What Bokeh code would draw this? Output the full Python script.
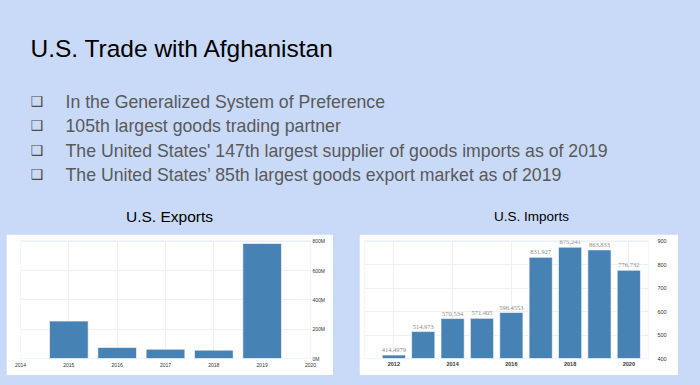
from bokeh.plotting import figure
from bokeh.models import Range1d, FixedTicker, Spacer, LabelSet, ColumnDataSource
from bokeh.layouts import column, row
from bokeh.core.properties import value
from bokeh.embed import file_html
from bokeh.resources import INLINE

# ---------------- data ----------------
title_text = "U.S. Trade with Afghanistan"
bullet_texts = [
    "In the Generalized System of Preference",
    "105th largest goods trading partner",
    "The United States' 147th largest supplier of goods imports as of 2019",
    "The United States\u2019 85th largest goods export market as of 2019",
]
exports_title = "U.S. Exports"
imports_title = "U.S. Imports"

export_years = [2015, 2016, 2017, 2018, 2019]
export_values = [255, 75, 63, 57, 785]
export_xticks = [2014, 2015, 2016, 2017, 2018, 2019, 2020]
export_yticks = [0, 200, 400, 600, 800]
export_ytick_labels = ["0M", "200M", "400M", "600M", "800M"]

import_years = [2012, 2013, 2014, 2015, 2016, 2017, 2018, 2019, 2020]
import_values = [414.4979, 514.973, 570.534, 571.405, 596.4553, 831.927, 875.241, 863.833, 776.732]
import_labels = [str(v) for v in import_values]
import_xticks = [2012, 2014, 2016, 2018, 2020]
import_yticks = [400, 500, 600, 700, 800, 900]

# ---------------- styles ----------------
BG = "#c9daf8"
BAR = "#4682b4"
FONT = value("Liberation Sans")

# ---------------- header (title, bullets, chart captions) ----------------
HDR_H = 234
hdr = figure(width=700, height=HDR_H, x_range=Range1d(0, 700), y_range=Range1d(HDR_H, 0),
             output_backend="svg", toolbar_location=None, min_border=0)
hdr.axis.visible = False
hdr.grid.visible = False
hdr.outline_line_color = None
hdr.background_fill_color = BG
hdr.border_fill_color = BG

hdr.text(x=[30], y=[48], text=[title_text], text_font=FONT, text_font_size="24.5px",
         text_color="#000000", text_align="left", text_baseline="alphabetic")

by = [101.5 + 24.3 * i for i in range(len(bullet_texts))]
hdr.text(x=[65] * len(bullet_texts), y=by, text=bullet_texts, text_font=FONT,
         text_font_size="17.7px", text_color="#595959", text_align="left",
         text_baseline="alphabetic")
hdr.text(x=[30] * len(bullet_texts), y=[v - 1 for v in by], text=["\u2751"] * len(bullet_texts),
         text_font=value("DejaVu Sans"), text_font_size="14px", text_color="#4a4a4a",
         text_align="left", text_baseline="alphabetic")

hdr.text(x=[169], y=[216], text=[exports_title], text_font=FONT, text_font_size="15.5px",
         text_color="#000000", text_align="center", text_baseline="alphabetic")
hdr.text(x=[531], y=[216], text=[imports_title], text_font=FONT, text_font_size="13.5px",
         text_color="#000000", text_align="center", text_baseline="alphabetic")


def style_axes(p, size, color):
    for ax in p.axis:
        ax.axis_line_color = None
        ax.major_tick_line_color = None
        ax.minor_tick_line_color = None
        ax.major_tick_out = 0
        ax.major_tick_in = 0
        ax.minor_tick_out = 0
        ax.minor_tick_in = 0
        ax.major_label_text_font = "Liberation Sans"
        ax.major_label_text_font_size = size
        ax.major_label_text_color = color
    p.outline_line_color = None
    p.background_fill_color = "white"
    p.border_fill_color = "white"
    p.grid.grid_line_color = "#efefef"


ROW_H = 141

# ---------------- exports chart ----------------
exp = figure(width=327, height=ROW_H, x_range=Range1d(2014, 2020), y_range=Range1d(0, 805),
             y_axis_location="right", output_backend="svg", toolbar_location=None,
             min_border_left=14, min_border_right=23, min_border_top=6, min_border_bottom=16)
exp.vbar(x=export_years, top=export_values, bottom=0, width=0.8, fill_color=BAR,
         line_color="white", line_alpha=0.6, line_width=1)
style_axes(exp, "5px", "#333333")
exp.xaxis.ticker = FixedTicker(ticks=export_xticks)
exp.yaxis.ticker = FixedTicker(ticks=export_yticks)
exp.yaxis.major_label_overrides = {float(k): v for k, v in zip(export_yticks, export_ytick_labels)}
exp.xaxis.major_label_standoff = 4
exp.yaxis.major_label_standoff = 2

# ---------------- imports chart ----------------
imp = figure(width=319, height=ROW_H, x_range=Range1d(2011, 2020.67), y_range=Range1d(400, 904),
             y_axis_location="right", output_backend="svg", toolbar_location=None,
             min_border_left=5, min_border_right=30, min_border_top=5, min_border_bottom=17)
imp_src = ColumnDataSource(data=dict(year=import_years, val=import_values, lab=import_labels))
imp.vbar(x="year", top="val", bottom=400, width=0.79, source=imp_src, fill_color=BAR,
         line_color="white", line_alpha=0.6, line_width=1)
imp.add_layout(LabelSet(x="year", y="val", text="lab", source=imp_src,
                        text_font="Liberation Sans", text_font_size="6.5px",
                        text_color="#8c8c8c", text_align="center",
                        text_baseline="bottom", y_offset=3))
style_axes(imp, "5.5px", "#333333")
imp.xaxis.ticker = FixedTicker(ticks=import_xticks)
imp.yaxis.ticker = FixedTicker(ticks=import_yticks)
imp.xaxis.major_label_text_font_style = "bold"
imp.xaxis.major_label_standoff = 3
imp.yaxis.major_label_standoff = 9

layout = column(hdr, row(Spacer(width=6, height=ROW_H), exp, Spacer(width=26, height=ROW_H), imp))

html = file_html(layout, INLINE, title=title_text)
i = html.rfind("<body")
j = html.find(">", i)
html = html[:j] + ' style="background-color:#c9daf8;"' + html[j:]
open("out.html", "w").write(html)
